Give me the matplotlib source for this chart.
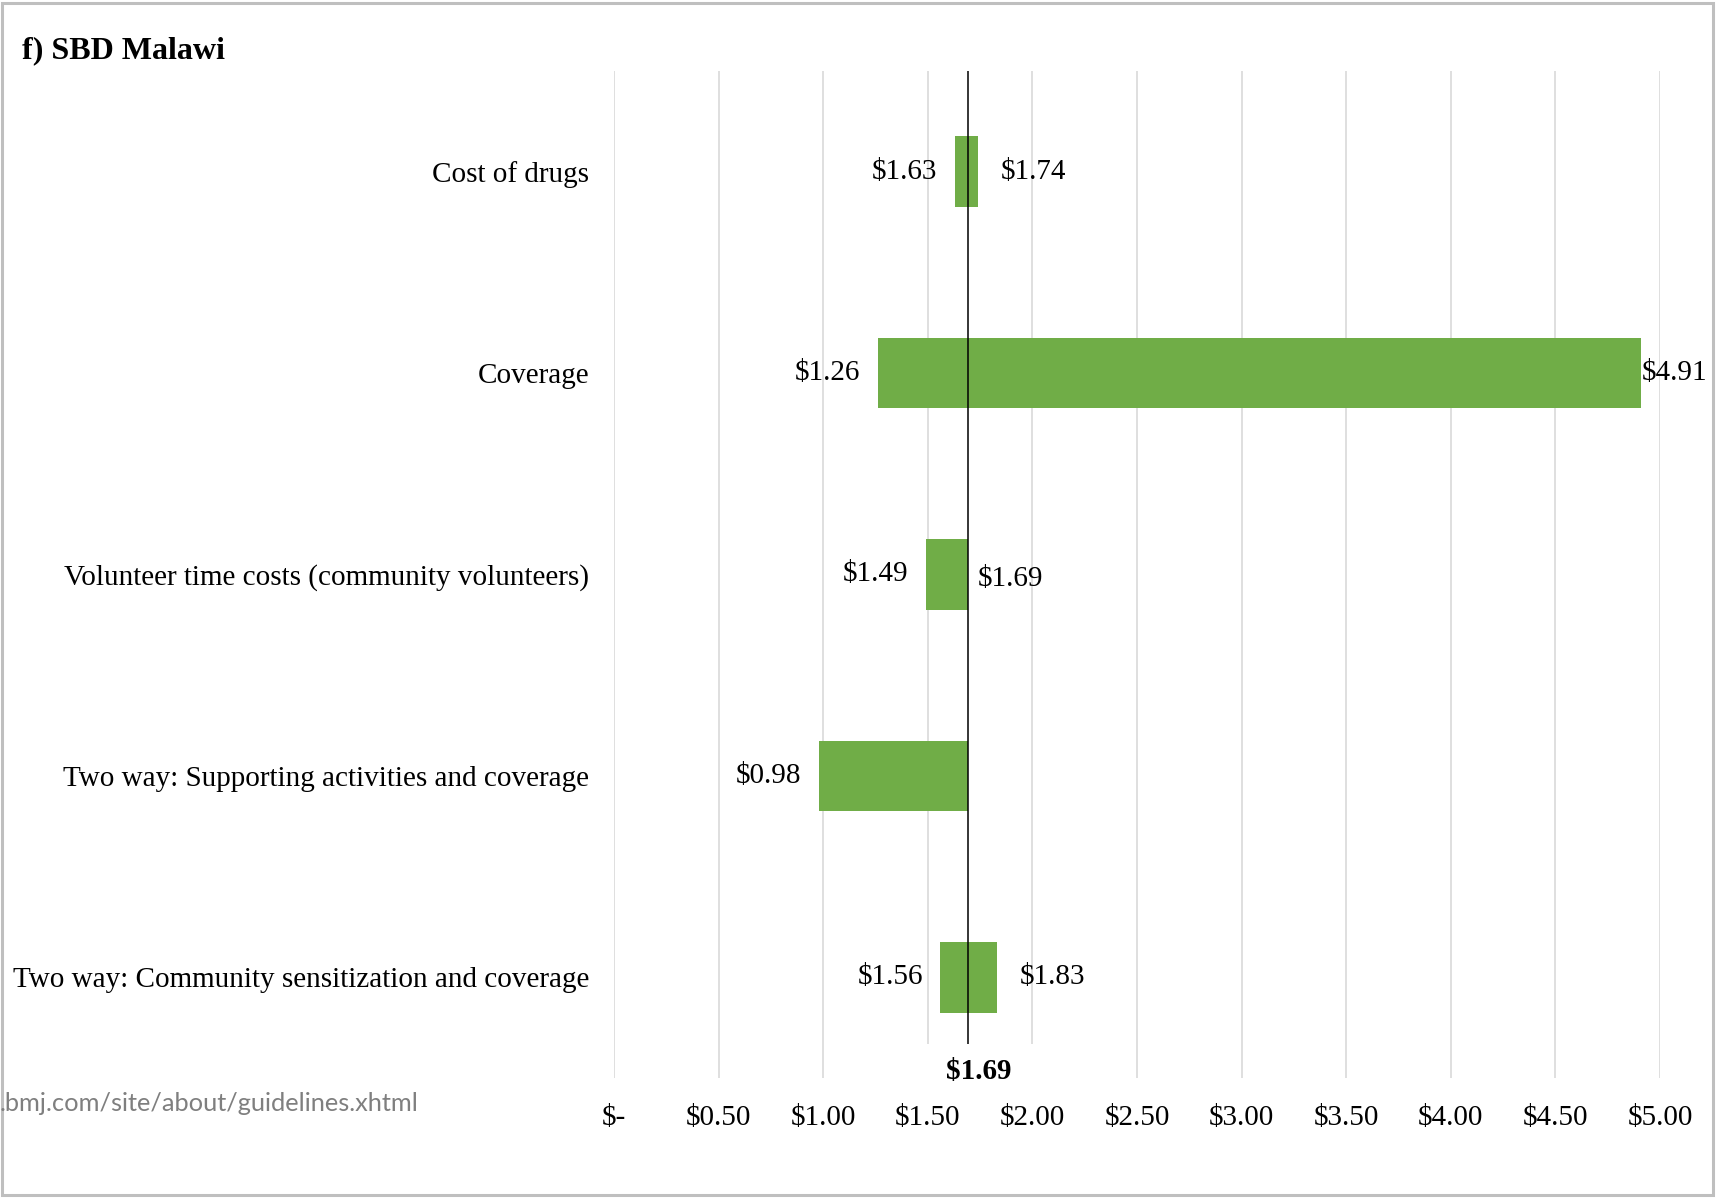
import matplotlib.pyplot as plt
from matplotlib.patches import Rectangle
from matplotlib.ticker import FixedLocator, FuncFormatter
from matplotlib.transforms import blended_transform_factory

# Tornado chart, SBD Malawi
TITLE = "f) SBD Malawi"
SOURCE = ".bmj.com/site/about/guidelines.xhtml"
BASE = 1.69

categories = [
    "Cost of drugs",
    "Coverage",
    "Volunteer time costs (community volunteers)",
    "Two way: Supporting activities and coverage",
    "Two way: Community sensitization and coverage",
]
low = [1.63, 1.26, 1.49, 0.98, 1.56]
high = [1.74, 4.91, 1.69, 1.69, 1.83]
low_labels = ["$1.63", "$1.26", "$1.49", "$0.98", "$1.56"]
high_labels = ["$1.74", "$4.91", "$1.69", "", "$1.83"]
x_ticks = [0, 0.5, 1.0, 1.5, 2.0, 2.5, 3.0, 3.5, 4.0, 4.5, 5.0]

# label layout (points), not data
HIGH_DX = [16.6, 0.5, 7.0, 16.6, 16.6]
HIGH_DY = [0, 0, -3, 0, 0]
LOW_DX = -12.6

GREEN = "#70AD47"
GRID = "#D9D9D9"
FS = 21

plt.rcParams["font.family"] = ["Liberation Serif", "DejaVu Serif"]

fig = plt.figure(figsize=(17.19, 11.98), dpi=100)
ax = fig.add_axes([0.3572, 0.1002, 0.6085, 0.8406])

y = list(range(len(categories)))
widths = [h - l for l, h in zip(low, high)]
ax.barh(y, widths, left=low, height=0.35, color=GREEN, zorder=2)

for i in y:
    ax.annotate(low_labels[i], (low[i], i), xytext=(LOW_DX, 0),
                textcoords="offset points", ha="right", va="center",
                fontsize=FS)
    if high_labels[i]:
        ax.annotate(high_labels[i], (high[i], i),
                    xytext=(HIGH_DX[i], HIGH_DY[i]),
                    textcoords="offset points", ha="left", va="center",
                    fontsize=FS, annotation_clip=False)

ax.axvline(BASE, color="black", linewidth=1.1, zorder=3)

# white label box at the bottom of the base line (hides grid lines)
trans = blended_transform_factory(ax.transData, ax.transAxes)
ax.add_patch(Rectangle((1.49, 0.0), 0.52, 0.034, transform=trans,
                       facecolor="white", edgecolor="none", zorder=4,
                       clip_on=False))
ax.annotate(f"${BASE:.2f}", (BASE, 0), xycoords=("data", "axes fraction"),
            xytext=(8.3, 4.3), textcoords="offset points", ha="center",
            va="center", fontsize=FS, fontweight="bold", zorder=6,
            annotation_clip=False)

ax.set_xlim(0, 5.0)
ax.set_ylim(len(categories) - 0.5, -0.5)
ax.xaxis.set_major_locator(FixedLocator(x_ticks))
ax.xaxis.set_major_formatter(
    FuncFormatter(lambda v, p: "$-" if v == 0 else f"${v:.2f}"))
ax.set_yticks(y)
ax.set_yticklabels(categories)
ax.tick_params(axis="both", length=0, labelsize=FS)
ax.tick_params(axis="x", pad=19.5)
ax.tick_params(axis="y", pad=18)
ax.grid(True, axis="x", color=GRID, linewidth=1.2, zorder=0)
ax.set_axisbelow(True)
for s in ax.spines.values():
    s.set_visible(False)

fig.text(22 / 1719, 0.958, TITLE, fontsize=23, fontweight="bold",
         ha="left", va="center")
fig.text(0.0, 0.0785, SOURCE, fontsize=18.3, color="#7F7F7F",
         family=["Lato", "DejaVu Sans"], ha="left", va="center")

fig.patches.append(Rectangle((2 / 1719, 3 / 1198), 1711 / 1719, 1192 / 1198,
                             transform=fig.transFigure, fill=False,
                             edgecolor="#BFBFBF", linewidth=2.2))

fig.savefig("out.png", dpi=100)
